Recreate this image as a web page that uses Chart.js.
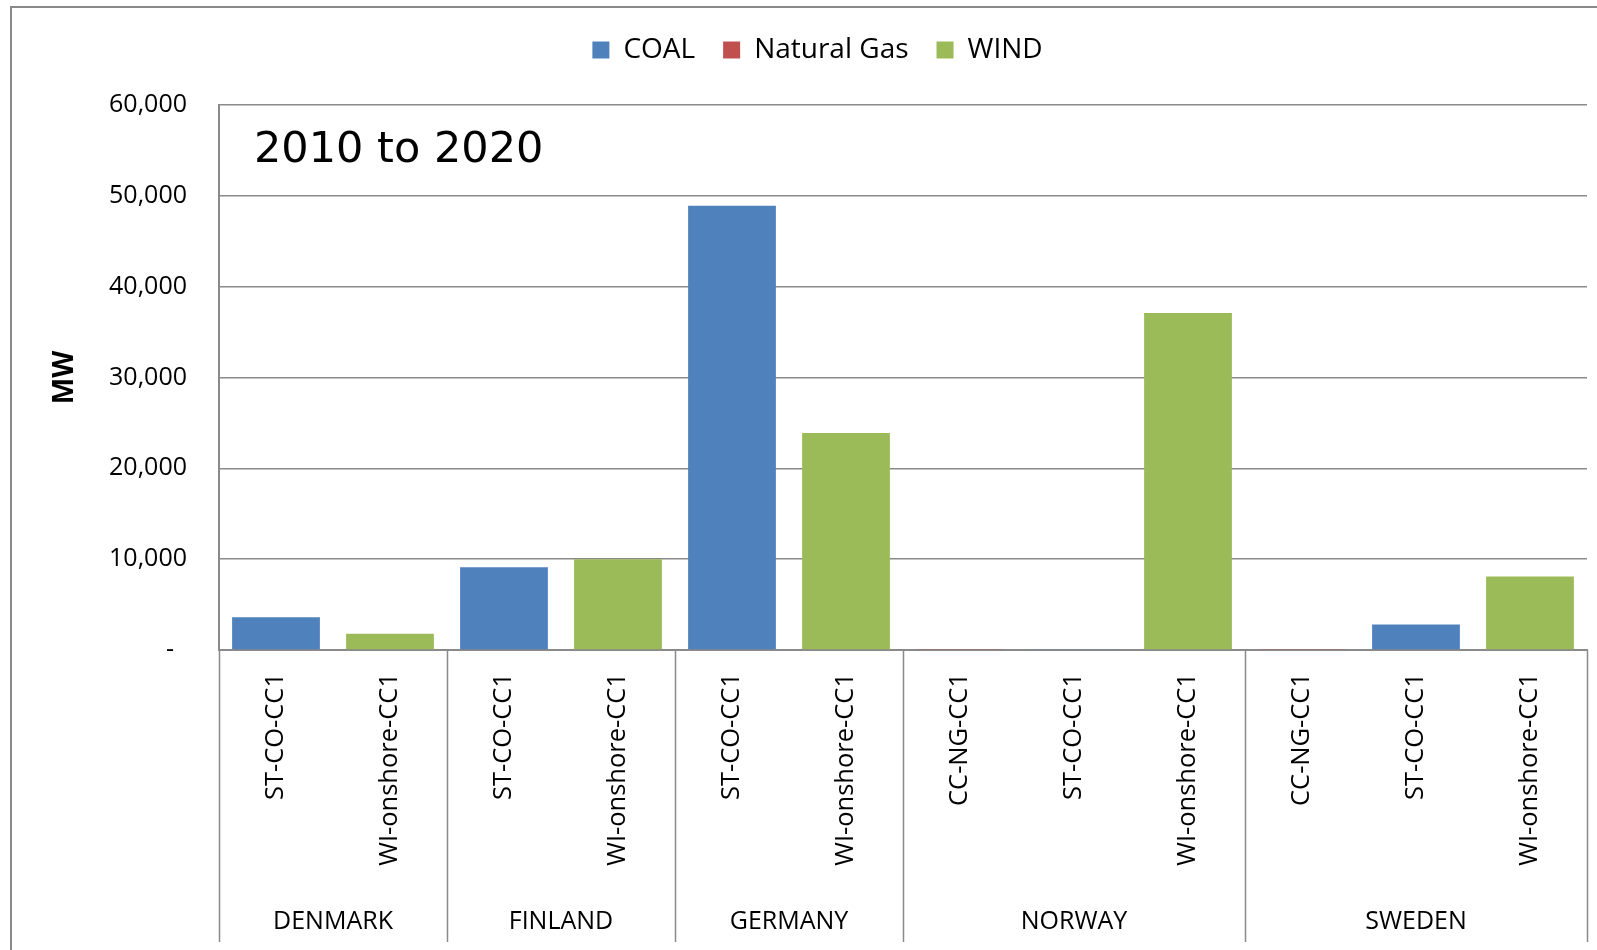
<!DOCTYPE html>
<html>
<head>
<meta charset="utf-8">
<script src="https://cdn.jsdelivr.net/npm/chart.js@4.4.0/dist/chart.umd.min.js"></script>
<style>
  html, body { margin: 0; padding: 0; background: #fff; }
</style>
</head>
<body>
<canvas id="chart" width="1597" height="950"></canvas>
<script>
// data
const categories = ['ST-CO-CC1', 'WI-onshore-CC1', 'ST-CO-CC1', 'WI-onshore-CC1', 'ST-CO-CC1', 'WI-onshore-CC1',
                    'CC-NG-CC1', 'ST-CO-CC1', 'WI-onshore-CC1', 'CC-NG-CC1', 'ST-CO-CC1', 'WI-onshore-CC1']
const countries = ['DENMARK', 'FINLAND', 'GERMANY', 'NORWAY', 'SWEDEN']
const countrySpan = [2, 2, 2, 3, 3]
const coal = [3600, null, 9100, null, 48900, null, null, 60, null, null, 2800, null]
const naturalGas = [null, null, null, null, null, null, 50, null, null, 50, null, null]
const wind = [null, 1800, null, 10000, null, 23900, null, null, 37100, null, null, 8100]
const yTicks = [0, 10000, 20000, 30000, 40000, 50000, 60000]
const seriesNames = ['COAL', 'Natural Gas', 'WIND']
const colors = ['#4F81BD', '#C0504D', '#9BBB59']

const gridGray = '#8a8a8a'
const font = 'Open Sans'

// frame around the whole chart + period label + country row under the axis
const extras = {
    id: 'extras',
    beforeLayout(chart) {
        // leave a gap between the legend and the plot
        const lg = chart.legend
        if (lg && !lg._patched) {
            const fit = lg.fit
            lg.fit = function () {
                fit.call(this)
                this.height += 31
            }
            lg._patched = true
        }
    },
    beforeDraw(chart) {
        const ctx = chart.ctx
        ctx.save()
        ctx.strokeStyle = gridGray
        ctx.lineWidth = 2
        ctx.strokeRect(11, 7, 3000, 3000)
        ctx.restore()
    },
    afterDraw(chart) {
        const ctx = chart.ctx
        const area = chart.chartArea
        const x = chart.scales.x
        const bottom = chart.height - 8

        ctx.save()
        ctx.fillStyle = '#000'
        ctx.font = '43px "DejaVu Sans"'
        ctx.textBaseline = 'middle'
        ctx.textAlign = 'left'
        ctx.fillText('2010 to 2020', area.left + 35, 151)

        ctx.strokeStyle = gridGray
        ctx.lineWidth = 1.5
        ctx.font = '25px "' + font + '"'
        ctx.textAlign = 'center'
        let start = 0
        let edges = [area.left]
        countries.forEach((name, i) => {
            const end = start + countrySpan[i] - 1
            const left = start === 0 ? area.left : (x.getPixelForValue(start - 1) + x.getPixelForValue(start)) / 2
            const right = end === categories.length - 1 ? area.right : (x.getPixelForValue(end) + x.getPixelForValue(end + 1)) / 2
            edges.push(right)
            ctx.fillText(name, (left + right) / 2, 922)
            start = end + 1
        })
        edges.forEach(px => {
            ctx.beginPath()
            ctx.moveTo(Math.round(px) + 0.5, area.bottom)
            ctx.lineTo(Math.round(px) + 0.5, bottom)
            ctx.stroke()
        })
        ctx.restore()
    }
}

const datasets = [coal, naturalGas, wind].map((vals, i) => ({
    label: seriesNames[i],
    data: vals,
    backgroundColor: colors[i],
    borderWidth: 0,
    barPercentage: 0.77,
    categoryPercentage: 1
}))

new Chart(document.getElementById('chart'), {
    type: 'bar',
    data: { labels: categories, datasets: datasets },
    plugins: [extras],
    options: {
        responsive: false,
        animation: false,
        devicePixelRatio: 1,
        layout: { padding: { left: 48, right: 10, top: 8, bottom: 0 } },
        plugins: {
            tooltip: { enabled: false },
            legend: {
                position: 'top',
                labels: {
                    boxWidth: 17,
                    boxHeight: 17,
                    padding: 28,
                    color: '#000',
                    font: { family: font, size: 28 }
                }
            }
        },
        scales: {
            x: {
                stacked: true,
                grid: { display: false },
                border: { color: gridGray, width: 2 },
                afterFit: s => { s.height = 300 },
                ticks: {
                    autoSkip: false,
                    minRotation: 90,
                    maxRotation: 90,
                    padding: 15,
                    color: '#000',
                    font: { family: font, size: 25.5 }
                }
            },
            y: {
                min: 0,
                max: 60000,
                afterFit: s => { s.width = 171 },
                afterBuildTicks: s => { s.ticks = yTicks.map(v => ({ value: v })) },
                grid: { color: gridGray, lineWidth: 1.5, drawTicks: false },
                border: { color: gridGray, width: 2 },
                ticks: {
                    padding: 32,
                    color: '#000',
                    font: { family: font, size: 25 },
                    callback: v => v === 0 ? '-  ' : v.toLocaleString('en-US')
                },
                title: {
                    display: true,
                    text: 'MW',
                    color: '#000',
                    font: { family: font, size: 28, weight: 'bold' },
                    padding: { top: 0, bottom: 0 }
                }
            }
        }
    }
})
</script>
</body>
</html>
